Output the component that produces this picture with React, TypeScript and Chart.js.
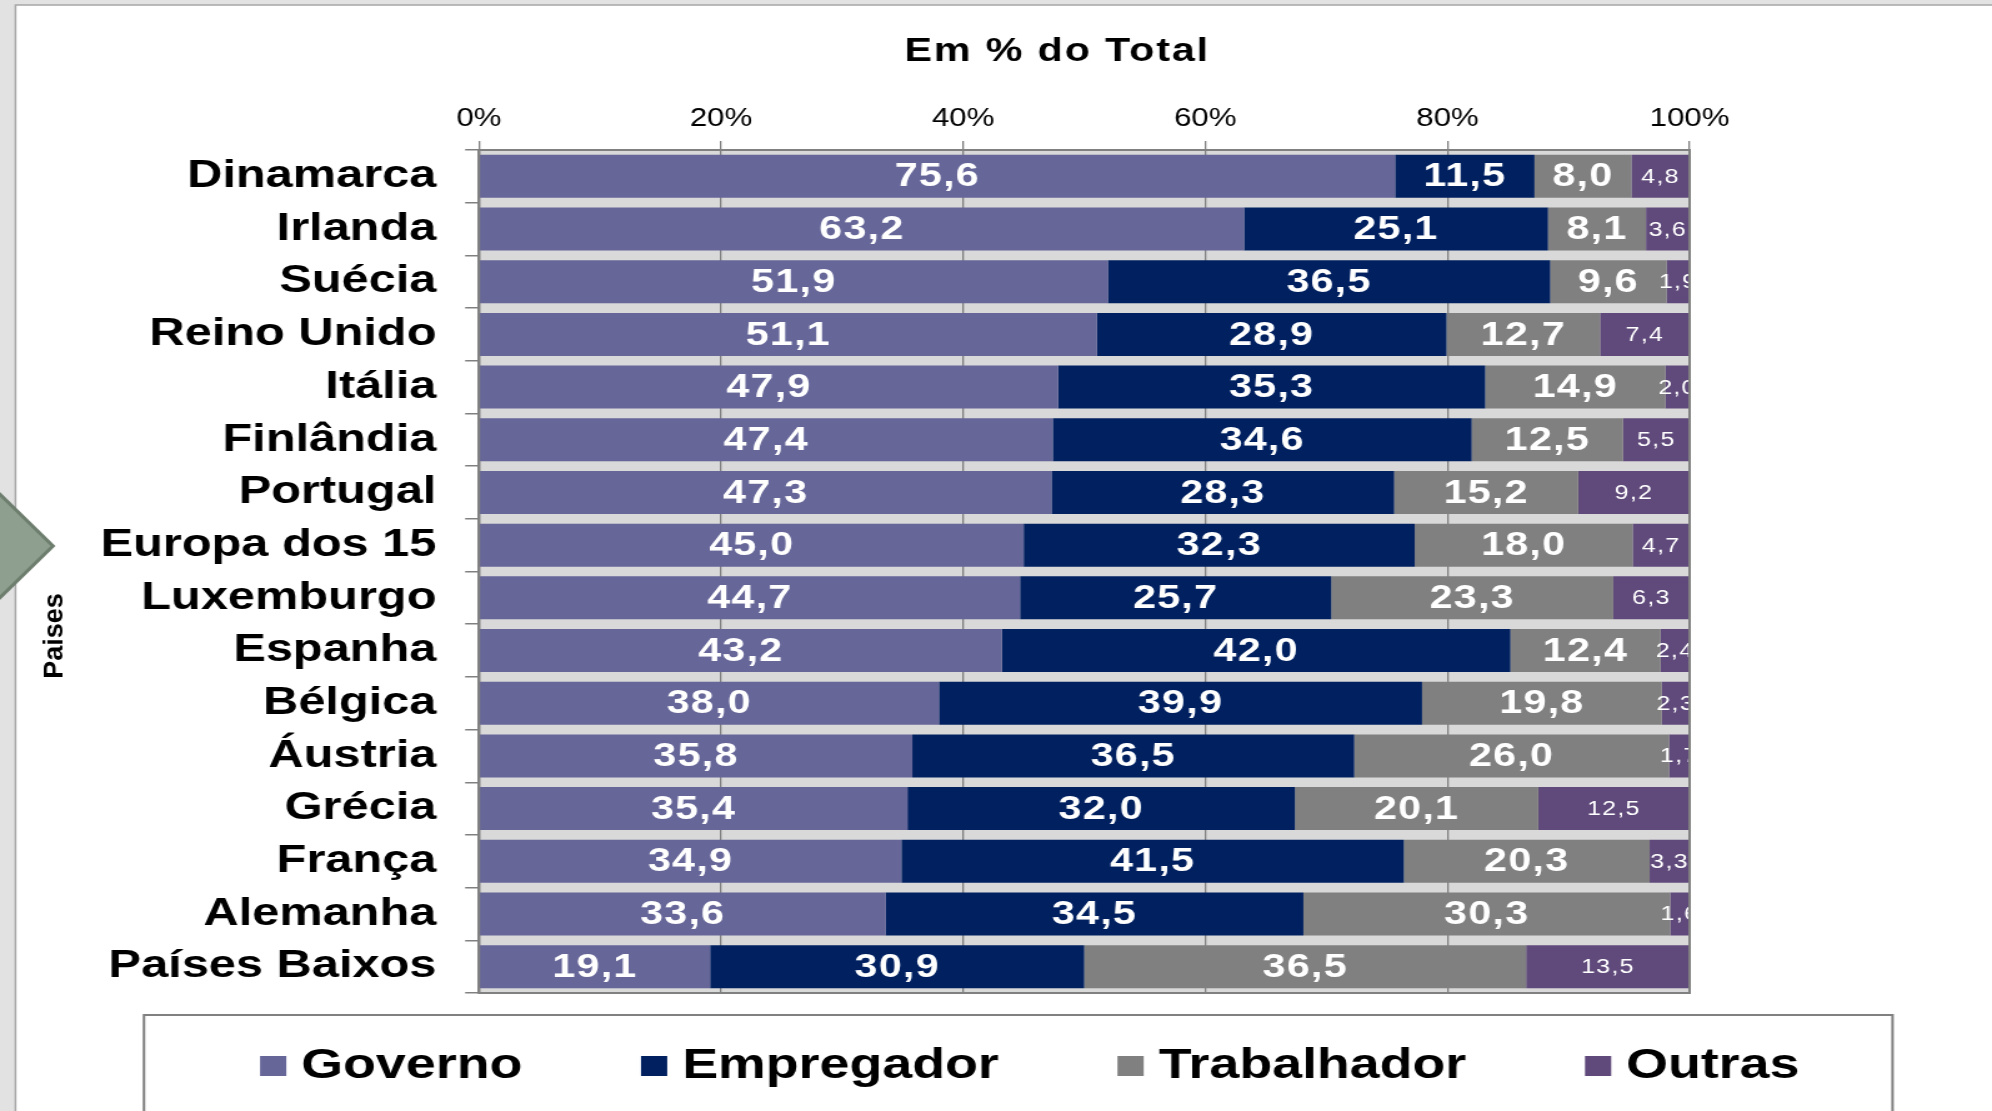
import React, { useEffect, useRef } from "react";
import { Chart, registerables } from "chart.js";

Chart.register(...registerables);

// ---------- data ----------
const categories = [
  "Dinamarca",
  "Irlanda",
  "Suécia",
  "Reino Unido",
  "Itália",
  "Finlândia",
  "Portugal",
  "Europa dos 15",
  "Luxemburgo",
  "Espanha",
  "Bélgica",
  "Áustria",
  "Grécia",
  "França",
  "Alemanha",
  "Países Baixos",
];
const governo = [75.6, 63.2, 51.9, 51.1, 47.9, 47.4, 47.3, 45.0, 44.7, 43.2, 38.0, 35.8, 35.4, 34.9, 33.6, 19.1];
const empregador = [11.5, 25.1, 36.5, 28.9, 35.3, 34.6, 28.3, 32.3, 25.7, 42.0, 39.9, 36.5, 32.0, 41.5, 34.5, 30.9];
const trabalhador = [8.0, 8.1, 9.6, 12.7, 14.9, 12.5, 15.2, 18.0, 23.3, 12.4, 19.8, 26.0, 20.1, 20.3, 30.3, 36.5];
const outras = [4.8, 3.6, 1.9, 7.4, 2.0, 5.5, 9.2, 4.7, 6.3, 2.4, 2.3, 1.7, 12.5, 3.3, 1.6, 13.5];
const seriesNames = ["Governo", "Empregador", "Trabalhador", "Outras"];
const seriesColors = ["#666699", "#002060", "#808080", "#604a7b"];
const xTickValues = [0, 20, 40, 60, 80, 100];
const chartTitle = "Em % do Total";
const yAxisTitle = "Paises";

// ---------- layout ----------
const FULL_W = 1992;
const FULL_H = 1111;
const S = 1.25; // horizontal stretch of the original picture
const W = Math.round(FULL_W / S);
const FONT = '"Liberation Sans", Arial, Helvetica, sans-serif';

const rawSeries = [governo, empregador, trabalhador, outras];
const totals = categories.map((_, i) => rawSeries.reduce((s, arr) => s + arr[i], 0));

const fmt = (v: number) => v.toFixed(1).replace(".", ",");

const framePlugin = {
  id: "frame",
  beforeDraw(chart: any) {
    const ctx = chart.ctx as CanvasRenderingContext2D;
    const a = chart.chartArea;
    ctx.save();
    ctx.fillStyle = "#e2e2e2";
    ctx.fillRect(0, 0, chart.width, chart.height);
    ctx.fillStyle = "#ffffff";
    ctx.fillRect(16 / S, 5, chart.width, chart.height);
    ctx.strokeStyle = "#a6a6a6";
    ctx.lineWidth = 1.5;
    ctx.beginPath();
    ctx.moveTo(15.5 / S, chart.height);
    ctx.lineTo(15.5 / S, 5);
    ctx.lineTo(chart.width, 5);
    ctx.stroke();
    // arrow shape at left edge
    ctx.fillStyle = "#8f9f8f";
    ctx.strokeStyle = "#6e7e6e";
    ctx.lineWidth = 3;
    ctx.beginPath();
    ctx.moveTo(-2, 492);
    ctx.lineTo(53 / S, 546);
    ctx.lineTo(-2, 600);
    ctx.closePath();
    ctx.fill();
    ctx.stroke();
    // plot background
    ctx.fillStyle = "#d9d9d9";
    ctx.fillRect(a.left, a.top, a.right - a.left, a.bottom - a.top);
    ctx.restore();
  },
  afterDatasetsDraw(chart: any) {
    const ctx = chart.ctx as CanvasRenderingContext2D;
    const a = chart.chartArea;
    ctx.save();
    ctx.beginPath();
    ctx.rect(a.left, a.top, a.right - a.left, a.bottom - a.top);
    ctx.clip();
    ctx.fillStyle = "#ffffff";
    ctx.textAlign = "center";
    ctx.textBaseline = "middle";
    chart.data.datasets.forEach((ds: any, k: number) => {
      const meta = chart.getDatasetMeta(k);
      meta.data.forEach((el: any, i: number) => {
        const p = el.getProps(["x", "base", "y"], true);
        const cx = (p.x + p.base) / 2;
        (ctx as any).letterSpacing = "1px";
        ctx.font = k === 3 ? `20px ${FONT}` : `bold 33px ${FONT}`;
        ctx.fillText(fmt(rawSeries[k][i]), cx, p.y + 1);
      });
    });
    ctx.restore();
    ctx.save();
    ctx.strokeStyle = "#808080";
    ctx.lineWidth = 2;
    ctx.strokeRect(a.left, a.top, a.right - a.left, a.bottom - a.top);
    ctx.restore();
  },
  afterDraw(chart: any) {
    const ctx = chart.ctx as CanvasRenderingContext2D;
    ctx.save();
    ctx.fillStyle = "#000000";
    // title
    ctx.textAlign = "center";
    ctx.textBaseline = "alphabetic";
    (ctx as any).letterSpacing = "1.5px";
    ctx.font = `bold 33px ${FONT}`;
    ctx.fillText(chartTitle, 846, 61);
    (ctx as any).letterSpacing = "0px";
    // y axis title
    ctx.save();
    ctx.translate(50, 636);
    ctx.rotate(-Math.PI / 2);
    ctx.scale(1, 0.85);
    ctx.font = `bold 27px ${FONT}`;
    ctx.textAlign = "center";
    ctx.fillText(yAxisTitle, 0, 0);
    ctx.restore();
    // legend box
    ctx.strokeStyle = "#808080";
    ctx.lineWidth = 2;
    ctx.strokeRect(144 / S, 1015, (1893 - 144) / S, 200);
    // legend items
    ctx.font = `bold 43px ${FONT}`;
    ctx.textAlign = "left";
    const sq = 21;
    const gapT = 12;
    const gapI = 95;
    const widths = seriesNames.map((n) => sq + gapT + ctx.measureText(n).width);
    const total = widths.reduce((s, w) => s + w, 0) + gapI * (seriesNames.length - 1);
    let x = 1030 / S - total / 2;
    seriesNames.forEach((n, k) => {
      ctx.fillStyle = seriesColors[k];
      ctx.fillRect(x, 1056, sq, 20);
      ctx.fillStyle = "#000000";
      ctx.fillText(n, x + sq + gapT, 1078);
      x += widths[k] + gapI;
    });
    ctx.restore();
  },
};

export default function App() {
  const ref = useRef<HTMLCanvasElement | null>(null);

  useEffect(() => {
    const canvas = ref.current;
    if (!canvas) return;
    const datasets = rawSeries.map((vals, k) => ({
      label: seriesNames[k],
      data: vals.map((v, i) => (v / totals[i]) * 100),
      backgroundColor: seriesColors[k],
      borderWidth: 0,
      barPercentage: 0.816,
      categoryPercentage: 1,
    }));
    const chart = new Chart(canvas, {
      type: "bar",
      data: { labels: categories, datasets },
      options: {
        indexAxis: "y",
        responsive: false,
        maintainAspectRatio: false,
        animation: false,
        devicePixelRatio: 1,
        events: [],
        layout: { padding: { left: 0, right: W - 1690 / S, top: 0, bottom: FULL_H - 993 } },
        plugins: {
          legend: { display: false },
          title: { display: false },
          tooltip: { enabled: false },
        },
        scales: {
          x: {
            type: "linear",
            position: "top",
            stacked: true,
            min: 0,
            max: 100,
            afterBuildTicks: (scale: any) => {
              scale.ticks = xTickValues.map((v) => ({ value: v }));
            },
            ticks: {
              callback: (v: any) => `${v}%`,
              color: "#000000",
              font: { family: FONT, size: 25 },
              padding: 7,
              maxRotation: 0,
              autoSkip: false,
            },
            grid: { color: "#808080", lineWidth: 1.3, tickLength: 9, drawTicks: true },
            border: { display: true, color: "#808080", width: 2 },
            afterFit: (scale: any) => {
              scale.height = 150;
            },
          },
          y: {
            type: "category",
            position: "left",
            stacked: true,
            ticks: {
              color: "#000000",
              font: { family: FONT, size: 39, weight: "bold" },
              padding: 23,
              autoSkip: false,
            },
            grid: {
              drawOnChartArea: false,
              drawTicks: true,
              tickLength: 11,
              color: "#808080",
              lineWidth: 1.5,
              offset: true,
            },
            border: { display: true, color: "#808080", width: 2 },
            afterFit: (scale: any) => {
              scale.width = 479 / S;
            },
          },
        },
      } as any,
      plugins: [framePlugin],
    });
    return () => chart.destroy();
  }, []);

  return (
    <div style={{ position: "fixed", left: 0, top: 0, width: FULL_W, height: FULL_H, overflow: "hidden", background: "#fff" }}>
      <canvas
        ref={ref}
        width={W}
        height={FULL_H}
        style={{ width: `${FULL_W}px`, height: `${FULL_H}px`, display: "block" }}
      />
    </div>
  );
}
